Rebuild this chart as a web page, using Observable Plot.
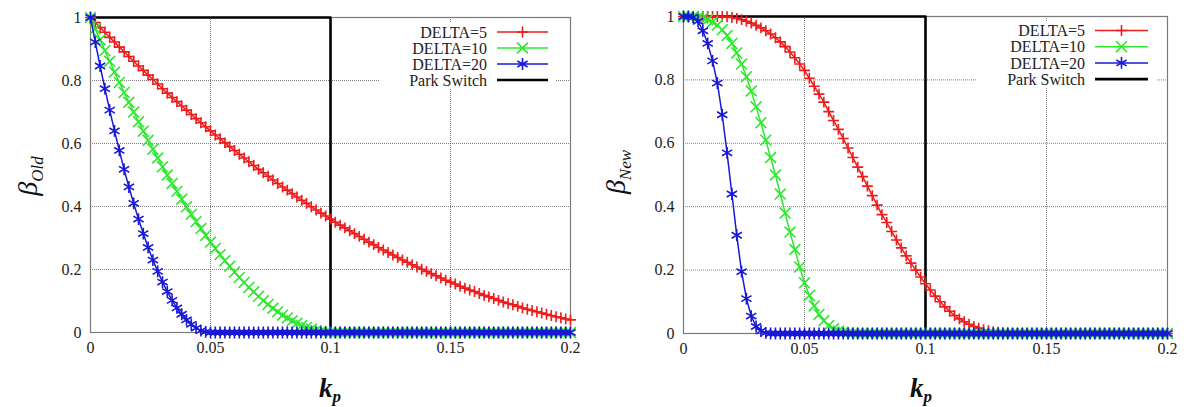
<!DOCTYPE html>
<html><head><meta charset="utf-8">
<script src="https://cdn.jsdelivr.net/npm/d3@7"></script>
<script src="https://cdn.jsdelivr.net/npm/@observablehq/plot@0.6"></script>
<style>
body{margin:0;background:#fff;}
#wrap{position:relative;width:1188px;height:407px;overflow:hidden;font-family:'Liberation Serif',serif;color:#111;}
#wrap svg, #wrap svg text{font-family:'Liberation Serif',serif !important;}
.pl{position:absolute;top:0;}
.ylab{position:absolute;transform:translate(-50%,-50%) rotate(-90deg);font-style:italic;font-size:28px;white-space:nowrap;line-height:1;}
.ylab sub{font-size:17px;vertical-align:-0.3em;}
.xlab{position:absolute;transform:translate(-50%,-50%);font-style:italic;font-weight:bold;font-size:27px;white-space:nowrap;line-height:1;}
.xlab sub{font-size:17px;vertical-align:-0.3em;}
</style></head><body>
<div id="wrap"></div>
<script>
// ---- data ----
const kp = [0,0.002,0.004,0.006,0.008,0.01,0.012,0.014,0.016,0.018,
0.02,0.022,0.024,0.026,0.028,0.03,0.032,0.034,0.036,0.038,
0.04,0.042,0.044,0.046,0.048,0.05,0.052,0.054,0.056,0.058,
0.06,0.062,0.064,0.066,0.068,0.07,0.072,0.074,0.076,0.078,
0.08,0.082,0.084,0.086,0.088,0.09,0.092,0.094,0.096,0.098,
0.1,0.102,0.104,0.106,0.108,0.11,0.112,0.114,0.116,0.118,
0.12,0.122,0.124,0.126,0.128,0.13,0.132,0.134,0.136,0.138,
0.14,0.142,0.144,0.146,0.148,0.15,0.152,0.154,0.156,0.158,
0.16,0.162,0.164,0.166,0.168,0.17,0.172,0.174,0.176,0.178,
0.18,0.182,0.184,0.186,0.188,0.19,0.192,0.194,0.196,0.198,
0.2];

const oldDelta5 = [1,.984,.968,.953,.937,.922,.906,.891,.876,.861,
.846,.832,.817,.803,.789,.774,.760,.746,.733,.719,
.706,.692,.679,.666,.653,.640,.627,.615,.602,.590,
.578,.566,.554,.542,.530,.518,.507,.496,.484,.473,
.462,.452,.441,.430,.420,.410,.399,.389,.379,.370,
.360,.350,.341,.332,.323,.314,.305,.296,.287,.279,
.270,.262,.254,.246,.238,.230,.223,.215,.208,.201,
.194,.187,.180,.173,.166,.160,.154,.147,.141,.135,
.130,.124,.118,.113,.108,.102,.097,.092,.088,.083,
.078,.074,.070,.066,.062,.058,.054,.050,.047,.043,
.040];

const oldDelta10 = [1,.964,.929,.895,.861,.827,.794,.762,.731,.700,
.669,.639,.610,.582,.554,.526,.500,.473,.448,.423,
.399,.375,.352,.330,.308,.287,.267,.247,.228,.210,
.192,.175,.159,.143,.129,.115,.101,.089,.077,.066,
.055,.046,.037,.029,.022,.016,.011,.006,.003,.001,
0,
0,0,0,0,0,0,0,0,0,0,
0,0,0,0,0,0,0,0,0,0,
0,0,0,0,0,0,0,0,0,0,
0,0,0,0,0,0,0,0,0,0,
0,0,0,0,0,0,0,0,0,0];

const oldDelta20 = [1,.922,.846,.774,.706,.640,.578,.518,.462,.410,
.360,.314,.270,.230,.194,.160,.130,.102,.078,.058,
.040,.026,.014,.006,.002,
0,0,0,0,0,0,0,0,0,0,
0,0,0,0,0,0,0,0,0,0,
0,0,0,0,0,0,0,0,0,0,
0,0,0,0,0,0,0,0,0,0,
0,0,0,0,0,0,0,0,0,0,
0,0,0,0,0,0,0,0,0,0,
0,0,0,0,0,0,0,0,0,0,
0,0,0,0,0,0];

const newDelta5 = [1,1,1,1,1,1,1,1,1,.999,
.997,.994,.990,.985,.979,.972,.964,.955,.945,.933,
.920,.905,.888,.870,.850,.830,.805,.780,.755,.730,
.700,.672,.644,.615,.585,.555,.525,.495,.465,.435,
.405,.375,.350,.322,.295,.270,.245,.222,.200,.178,
.157,.137,.118,.100,.084,.070,.057,.046,.037,.029,
.022,.017,.012,.009,.006,.004,.002,.001,
0,0,0,0,0,0,0,0,0,0,
0,0,0,0,0,0,0,0,0,0,
0,0,0,0,0,0,0,0,0,0,
0,0,0];

const newDelta10 = [1,1,1,.998,.995,.990,.983,.973,.958,.940,
.915,.885,.850,.810,.765,.715,.665,.610,.555,.500,
.440,.380,.320,.265,.210,.160,.120,.087,.060,.040,
.025,.015,.008,.004,.002,.001,
0,0,0,0,0,0,0,0,0,0,
0,0,0,0,0,0,0,0,0,0,
0,0,0,0,0,0,0,0,0,0,
0,0,0,0,0,0,0,0,0,0,
0,0,0,0,0,0,0,0,0,0,
0,0,0,0,0,0,0,0,0,0,
0,0,0,0,0];

const newDelta20 = [1,1,.998,.985,.955,.915,.860,.790,.690,.570,
.440,.310,.195,.110,.055,.022,.008,.002,
0,0,0,0,0,0,0,0,0,0,
0,0,0,0,0,0,0,0,0,0,
0,0,0,0,0,0,0,0,0,0,
0,0,0,0,0,0,0,0,0,0,
0,0,0,0,0,0,0,0,0,0,
0,0,0,0,0,0,0,0,0,0,
0,0,0,0,0,0,0,0,0,0,
0,0,0,0,0,0,0,0,0,0,
0,0,0];

const switchK = [0, 0.1, 0.1, 0.2];
const switchV = [1, 1, 0, 0];

const seriesNames = ["DELTA=5", "DELTA=10", "DELTA=20", "Park Switch"];
const seriesColors = ["#ee1c1c", "#2ee82e", "#1818d6", "#000000"];
const seriesSymbols = ["plus", "times", "asterisk", null];
const seriesR = [3.6, 5.0, 5.6];

const xTicks = [0, 0.05, 0.1, 0.15, 0.2];
const xTickLabels = ["0", "0.05", "0.1", "0.15", "0.2"];
const yTicks = [0, 0.2, 0.4, 0.6, 0.8, 1];
const yTickLabels = ["0", "0.2", "0.4", "0.6", "0.8", "1"];
const xGrid = [0.05, 0.1, 0.15];
const yGrid = [0.2, 0.4, 0.6, 0.8];

// ---- build ----
const FONT = "'Liberation Serif', serif";
const toRows = vals => vals.map((v, i) => ({k: kp[i], v})).filter(d => d.k !== undefined);
const switchRows = switchK.map((k, i) => ({k, v: switchV[i]}));
const xLab = new Map(xTicks.map((t, i) => [t, xTickLabels[i]]));
const yLab = new Map(yTicks.map((t, i) => [t, yTickLabels[i]]));

function panel(curves, m) {
  const marks = [
    Plot.gridX(xGrid, {stroke: "#555", strokeOpacity: 0.75, strokeDasharray: "1,1"}),
    Plot.gridY(yGrid, {stroke: "#555", strokeOpacity: 0.75, strokeDasharray: "1,1"}),
    Plot.frame({stroke: "#7a7a7a", strokeWidth: 1.2}),
    Plot.axisX(xTicks, {tickSize: 0, tickPadding: 9, tickFormat: d => xLab.get(d), fill: "#222", fontSize: 16, fontFamily: FONT}),
    Plot.axisY(yTicks, {tickSize: 0, tickPadding: 9, tickFormat: d => yLab.get(d), fill: "#222", fontSize: 16, fontFamily: FONT}),
    Plot.line(switchRows, {x: "k", y: "v", stroke: seriesColors[3], strokeWidth: 2.6, curve: "linear"})
  ];
  curves.forEach((vals, i) => {
    const rows = toRows(vals);
    marks.push(Plot.line(rows, {x: "k", y: "v", stroke: seriesColors[i], strokeWidth: 1.5}));
    marks.push(Plot.dot(rows, {x: "k", y: "v", symbol: seriesSymbols[i], stroke: seriesColors[i], fill: "none", r: seriesR[i], strokeWidth: 1.6}));
  });
  return Plot.plot({
    width: 594, height: 407,
    marginLeft: m.ml, marginRight: m.mr, marginTop: m.mt, marginBottom: m.mb,
    x: {domain: [0, 0.2], label: null},
    y: {domain: [0, 1], label: null},
    style: {fontFamily: FONT, fontSize: "16px", background: "transparent", overflow: "visible"},
    marks
  });
}

const wrap = document.getElementById("wrap");

const left = panel([oldDelta5, oldDelta10, oldDelta20], {ml: 90, mr: 24, mt: 17, mb: 75});
left.classList.add("pl"); left.style.left = "0px";
wrap.appendChild(left);

const right = panel([newDelta5, newDelta10, newDelta20], {ml: 89, mr: 21, mt: 16, mb: 74});
right.classList.add("pl"); right.style.left = "594px";
wrap.appendChild(right);

// ---- legends (pixel layout) ----
const overlay = d3.select(wrap).append("svg")
  .attr("width", 1188).attr("height", 407)
  .style("position", "absolute").style("left", 0).style("top", 0);

const symMap = {plus: d3.symbolPlus, times: d3.symbolTimes, asterisk: d3.symbolAsterisk};
function legend(L) {
  const g = overlay.append("g");
  g.append("rect").attr("x", L.bx).attr("y", L.by).attr("width", L.bw).attr("height", L.bh).attr("fill", "#fff");
  seriesNames.forEach((name, i) => {
    const y = L.top + i * L.dy;
    g.append("text").attr("x", L.tx).attr("y", y).attr("dy", "0.35em")
      .attr("text-anchor", "end").style("font-family", FONT)
      .attr("font-size", 16).attr("fill", "#222").text(name);
    g.append("line").attr("x1", L.lx1).attr("x2", L.lx2).attr("y1", y).attr("y2", y)
      .attr("stroke", seriesColors[i]).attr("stroke-width", i === 3 ? 2.6 : 1.5);
    if (seriesSymbols[i]) {
      g.append("path").attr("transform", `translate(${(L.lx1 + L.lx2) / 2},${y})`)
        .attr("d", d3.symbol(symMap[seriesSymbols[i]], seriesR[i] * seriesR[i] * Math.PI)())
        .attr("stroke", seriesColors[i]).attr("fill", "none").attr("stroke-width", 1.6);
    }
  });
}
legend({bx: 379, by: 22, bw: 177, bh: 66, tx: 487, lx1: 497, lx2: 548, top: 32, dy: 16});
legend({bx: 976, by: 21, bw: 181, bh: 66, tx: 1085, lx1: 1095, lx2: 1148, top: 30.5, dy: 16.2});

// ---- axis titles ----
function label(cls, html, x, y) {
  const d = document.createElement("div");
  d.className = cls; d.innerHTML = html;
  d.style.left = x + "px"; d.style.top = y + "px";
  wrap.appendChild(d);
}
label("ylab", "β<sub>Old</sub>", 30, 176);
label("ylab", "β<sub>New</sub>", 618, 172);
label("xlab", "k<sub>p</sub>", 330, 390);
label("xlab", "k<sub>p</sub>", 921, 390);
</script></body></html>
